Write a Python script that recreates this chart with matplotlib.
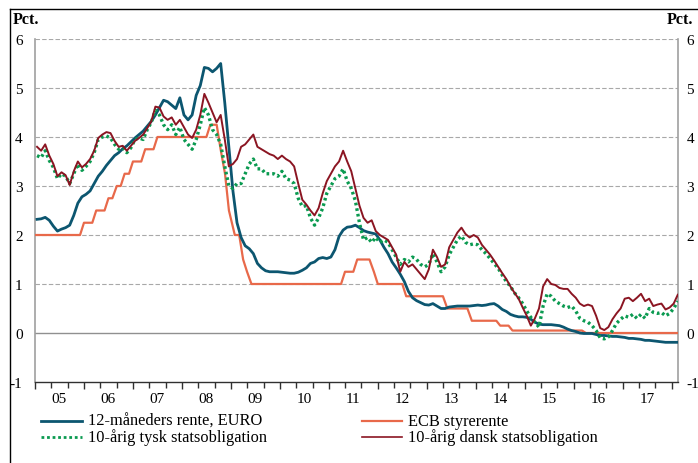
import numpy as np
import pandas as pd
import matplotlib
matplotlib.use("Agg")
import matplotlib.pyplot as plt
from matplotlib.lines import Line2D
import matplotlib.transforms as mtransforms

plt.rcParams['font.family'] = ['Liberation Serif', 'DejaVu Serif']

# Monthly observations, Jan 2005 - Feb 2018
dates = pd.date_range("2005-01-01", "2018-02-01", freq="MS")
t = dates.year + (dates.month - 0.5) / 12

euribor_12m = [
    2.32, 2.33, 2.36, 2.30, 2.18, 2.08, 2.12, 2.15, 2.20, 2.40, 2.65, 2.78,  # 2005
    2.83, 2.90, 3.05, 3.20, 3.30, 3.42, 3.52, 3.62, 3.68, 3.76, 3.82, 3.90,  # 2006
    3.98, 4.05, 4.12, 4.22, 4.32, 4.45, 4.60, 4.75, 4.72, 4.65, 4.58, 4.80,  # 2007
    4.45, 4.35, 4.45, 4.85, 5.05, 5.42, 5.40, 5.33, 5.40, 5.50, 4.70, 3.80,  # 2008
    2.90, 2.25, 1.95, 1.78, 1.72, 1.62, 1.42, 1.33, 1.27, 1.25, 1.25, 1.25,  # 2009
    1.24, 1.23, 1.22, 1.22, 1.24, 1.28, 1.33, 1.42, 1.45, 1.52, 1.54, 1.52,  # 2010
    1.55, 1.70, 1.97, 2.10, 2.16, 2.17, 2.20, 2.15, 2.09, 2.06, 2.04, 2.02,  # 2011
    1.90, 1.75, 1.62, 1.45, 1.33, 1.20, 1.05, 0.85, 0.72, 0.66, 0.62, 0.58,  # 2012
    0.57, 0.60, 0.55, 0.50, 0.50, 0.53, 0.54, 0.55, 0.55, 0.55, 0.55, 0.56,  # 2013
    0.57, 0.56, 0.57, 0.59, 0.60, 0.55, 0.48, 0.44, 0.38, 0.35, 0.33, 0.33,  # 2014
    0.32, 0.28, 0.22, 0.18, 0.17, 0.17, 0.17, 0.16, 0.15, 0.12, 0.08, 0.05,  # 2015
    0.03, 0.00, -0.01, -0.01, -0.01, -0.03, -0.05, -0.05, -0.06, -0.07, -0.07, -0.08,  # 2016
    -0.09, -0.11, -0.11, -0.12, -0.13, -0.15, -0.15, -0.16, -0.17, -0.18, -0.19, -0.19,  # 2017
    -0.19, -0.19,  # 2018
]

bund_10y = [
    3.62, 3.58, 3.72, 3.52, 3.38, 3.15, 3.25, 3.20, 3.05, 3.25, 3.45, 3.32,
    3.40, 3.50, 3.68, 3.95, 4.00, 4.02, 3.98, 3.85, 3.75, 3.78, 3.68, 3.78,
    3.95, 3.98, 3.95, 4.15, 4.30, 4.55, 4.45, 4.25, 4.15, 4.25, 4.05, 4.20,
    3.95, 3.85, 3.75, 3.95, 4.25, 4.60, 4.45, 4.15, 4.05, 3.85, 3.40, 3.00,
    2.95, 3.05, 3.05, 3.25, 3.45, 3.55, 3.35, 3.35, 3.25, 3.25, 3.25, 3.20,
    3.30, 3.15, 3.12, 3.05, 2.75, 2.58, 2.60, 2.35, 2.20, 2.35, 2.55, 2.85,
    3.00, 3.15, 3.20, 3.35, 3.10, 2.95, 2.70, 2.25, 1.90, 1.95, 1.85, 1.95,
    1.85, 1.90, 1.85, 1.70, 1.55, 1.40, 1.50, 1.45, 1.55, 1.50, 1.40, 1.35,
    1.40, 1.62, 1.45, 1.25, 1.35, 1.60, 1.75, 1.90, 1.98, 1.85, 1.80, 1.82,
    1.80, 1.70, 1.62, 1.52, 1.42, 1.32, 1.18, 1.05, 0.95, 0.82, 0.72, 0.60,
    0.45, 0.32, 0.22, 0.12, 0.55, 0.80, 0.75, 0.65, 0.60, 0.55, 0.52, 0.55,
    0.45, 0.30, 0.25, 0.22, 0.15, 0.05, -0.10, -0.12, -0.08, 0.05, 0.20, 0.28,
    0.35, 0.32, 0.38, 0.30, 0.38, 0.30, 0.50, 0.42, 0.40, 0.42, 0.35, 0.40,
    0.50, 0.65,
]

dk_10y = [
    3.80, 3.72, 3.85, 3.62, 3.45, 3.20, 3.28, 3.22, 3.02, 3.30, 3.50, 3.38,
    3.45, 3.55, 3.72, 3.98, 4.05, 4.10, 4.08, 3.92, 3.80, 3.82, 3.72, 3.82,
    3.92, 3.98, 4.05, 4.18, 4.32, 4.62, 4.60, 4.42, 4.35, 4.40, 4.25, 4.35,
    4.20, 4.05, 3.98, 4.15, 4.45, 4.88, 4.70, 4.50, 4.30, 4.45, 3.95, 3.40,
    3.45, 3.55, 3.80, 3.85, 3.95, 4.05, 3.80, 3.75, 3.70, 3.65, 3.62, 3.55,
    3.62, 3.55, 3.50, 3.40, 3.05, 2.72, 2.62, 2.50, 2.40, 2.55, 2.85, 3.10,
    3.25, 3.40, 3.50, 3.72, 3.50, 3.30, 2.95, 2.60, 2.35, 2.25, 2.30, 2.08,
    2.00, 1.95, 1.90, 1.75, 1.60, 1.25, 1.45, 1.35, 1.40, 1.30, 1.20, 1.10,
    1.30, 1.70, 1.55, 1.35, 1.40, 1.75, 1.90, 2.05, 2.15, 2.02, 1.95, 2.00,
    1.95, 1.80, 1.70, 1.60, 1.48, 1.35, 1.22, 1.10, 0.95, 0.82, 0.70, 0.52,
    0.35, 0.15, 0.30, 0.50, 0.95, 1.10, 1.00, 0.98, 0.92, 0.90, 0.90, 0.80,
    0.72, 0.60, 0.55, 0.58, 0.55, 0.35, 0.10, 0.06, 0.12, 0.28, 0.40, 0.50,
    0.70, 0.72, 0.65, 0.72, 0.80, 0.65, 0.70, 0.55, 0.58, 0.60, 0.48, 0.52,
    0.60, 0.78,
]

# ECB main refinancing rate, corner points of the monthly curve
ecb_t = [2005.0, 2005.92, 2006.0, 2006.17, 2006.25, 2006.42, 2006.5, 2006.58, 2006.67,
         2006.75, 2006.83, 2006.92, 2007.0, 2007.17, 2007.25, 2007.42, 2007.5, 2008.5,
         2008.58, 2008.71, 2008.79, 2008.88, 2008.96, 2009.08, 2009.17, 2009.25, 2009.33,
         2009.42, 2011.25, 2011.33, 2011.5, 2011.58, 2011.83, 2011.92, 2012.0, 2012.5,
         2012.58, 2013.33, 2013.42, 2013.83, 2013.92, 2014.42, 2014.5, 2014.67, 2014.75,
         2016.17, 2016.25, 2018.13]
ecb_rate = [2.00, 2.00, 2.25, 2.25, 2.50, 2.50, 2.75, 2.75, 3.00,
            3.00, 3.25, 3.25, 3.50, 3.50, 3.75, 3.75, 4.00, 4.00,
            4.25, 4.25, 3.75, 3.25, 2.50, 2.00, 2.00, 1.50, 1.25,
            1.00, 1.00, 1.25, 1.25, 1.50, 1.50, 1.25, 1.00, 1.00,
            0.75, 0.75, 0.50, 0.50, 0.25, 0.25, 0.15, 0.15, 0.05,
            0.05, 0.00, 0.00]

year_labels = ["05", "06", "07", "08", "09", "10", "11", "12", "13", "14", "15", "16", "17"]
y_ticks = [-1, 0, 1, 2, 3, 4, 5, 6]

c_blue = "#0c5670"
c_orange = "#e8694a"
c_green = "#0a9a50"
c_red = "#8b1522"

fig = plt.figure(figsize=(6.98, 4.64), dpi=100)
ax = fig.add_axes([35 / 698, 1 - 383 / 464, (678 - 35) / 698, (383 - 40) / 464])

ax.plot(ecb_t, ecb_rate, color=c_orange, lw=1.6, zorder=3)
ax.plot(t, euribor_12m, color=c_blue, lw=2.0, zorder=4)
ax.plot(t, bund_10y, color=c_green, lw=2.4, ls=(0, (0.8, 0.9)), zorder=5)
ax.plot(t, dk_10y, color=c_red, lw=1.4, zorder=6)

ax.set_xlim(2005.0, 2018.13)
ax.set_ylim(-1, 6)

# grid
for v in range(1, 7):
    ax.axhline(v, color="#a8a8a8", lw=0.8, ls=(0, (4, 2)), zorder=1)
ax.axhline(0, color="#909090", lw=1.0, zorder=1)

ax.spines["top"].set_visible(False)
for s in ["left", "right"]:
    ax.spines[s].set_color("#a0a0a0")
    ax.spines[s].set_linewidth(1.2)
ax.spines["bottom"].set_color("#303030")
ax.spines["bottom"].set_linewidth(1.0)

ax.set_yticks(y_ticks)
ax.set_yticklabels([str(v) for v in y_ticks], fontsize=11)
ax.tick_params(axis="y", length=0, pad=9)
ax2 = ax.twinx()
ax2.set_ylim(-1, 6)
ax2.set_yticks(y_ticks)
ax2.set_yticklabels([str(v) for v in y_ticks], fontsize=11)
ax2.tick_params(axis="y", length=0, pad=6)
for s in ax2.spines.values():
    s.set_visible(False)

ax.set_xticks(np.arange(2005, 2019))
ax.set_xticklabels([])
ax.set_xticks(np.arange(2005, 2018.2, 1 / 3), minor=True)
ax.tick_params(axis="x", which="major", length=5, width=1.0, color="#303030")
ax.tick_params(axis="x", which="minor", length=4, width=1.0, color="#303030")
trans = mtransforms.blended_transform_factory(ax.transData, ax.transAxes)
for i, lab in enumerate(year_labels):
    ax.text(2005.5 + i, -0.048, lab, transform=trans, ha="center", va="center", fontsize=11)

# Pct. labels
fig.text(13 / 698, 1 - 20 / 464, "Pct.", fontsize=11.5, fontweight="bold", ha="left", va="center")
fig.text(693 / 698, 1 - 20 / 464, "Pct.", fontsize=11.5, fontweight="bold", ha="right", va="center")

# outer frame
fig.add_artist(Line2D([10 / 698, 1.0], [1 - 10 / 464, 1 - 10 / 464], color="black", lw=1.0, transform=fig.transFigure))
fig.add_artist(Line2D([10 / 698, 10 / 698], [0, 1 - 10 / 464], color="black", lw=1.0, transform=fig.transFigure))

# legend
legend_items = [
    (41, 82, 88, 422, c_blue, "-", 2.0, "12-måneders rente, EURO"),
    (362, 402, 408, 422, c_orange, "-", 1.6, "ECB styrerente"),
    (41, 82, 88, 438, c_green, (0, (1, 1)), 2.0, "10-årig tysk statsobligation"),
    (362, 402, 408, 438, c_red, "-", 1.2, "10-årig dansk statsobligation"),
]
for x0, x1, xt, yy, col, ls, lw, lab in legend_items:
    fy = 1 - yy / 464
    fig.add_artist(Line2D([x0 / 698, x1 / 698], [fy, fy], color=col, ls=ls, lw=lw, transform=fig.transFigure))
    fig.text(xt / 698, fy, lab, fontsize=11.8, ha="left", va="center")

fig.savefig("out.png", dpi=100)
